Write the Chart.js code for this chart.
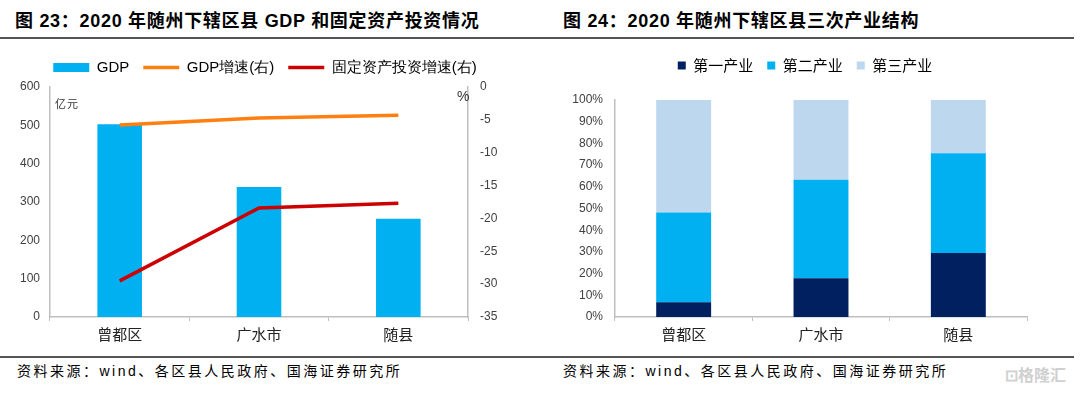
<html lang="zh">
<head>
<meta charset="UTF-8">
<title>随州下辖区县</title>
<style>
    body {
        margin: 0;
        width: 1080px;
        height: 395px;
        background: #fff;
        position: relative;
        overflow: hidden;
        font-family: "Liberation Sans", "Noto Sans CJK SC", sans-serif;
    }
    .title {
        position: absolute;
        top: 6px;
        font-size: 18px;
        font-weight: bold;
        color: #000;
        letter-spacing: 0.7px;
    }
    .rule {
        position: absolute;
        left: 0;
        width: 1074px;
        height: 2px;
        background: #555;
    }
    .source {
        position: absolute;
        top: 360px;
        font-size: 14px;
        letter-spacing: 2.5px;
        color: #000;
    }
    .box {
        position: absolute;
    }
    .unit {
        position: absolute;
        font-size: 11px;
        color: #333;
        letter-spacing: 1px;
    }
    .mark {
        position: absolute;
        left: 1005px;
        top: 362px;
        font-size: 16px;
        color: #d0d0d0;
        font-weight: bold;
    }
</style>
</head>
<body>
    <div class="title" style="left:15px">图 23：2020 年随州下辖区县 GDP 和固定资产投资情况</div>
    <div class="title" style="left:563px">图 24：2020 年随州下辖区县三次产业结构</div>
    <div class="rule" style="top:37px"></div>
    <div class="rule" style="top:356px"></div>

    <div class="box" style="left:0;top:40px;width:540px;height:312px"><canvas id="left"></canvas></div>
    <div class="box" style="left:545px;top:40px;width:535px;height:312px"><canvas id="right"></canvas></div>
    <div class="unit" style="left:55px;top:95px">亿元</div>
    <div class="unit" style="left:457px;top:88px;font-size:14px">%</div>

    <div class="source" style="left:17px">资料来源：wind、各区县人民政府、国海证券研究所</div>
    <div class="source" style="left:563px">资料来源：wind、各区县人民政府、国海证券研究所</div>
    <div class="mark">⊡格隆汇</div>

    <script src="https://cdn.jsdelivr.net/npm/chart.js"></script>
    <script>
        // data
        const counties = ['曾都区', '广水市', '随县'];
        const gdp = [503, 339, 256];
        const gdpGrowth = [-5.8, -4.7, -4.3];
        const investGrowth = [-29.5, -18.4, -17.7];

        const primary = [6.8, 17.9, 29.5];
        const secondary = [41.3, 45.4, 46.0];
        const tertiary = [51.9, 36.7, 24.5];

        const tickFont = { family: 'Liberation Sans', size: 12 };
        const catFont = { family: 'Noto Sans CJK SC', size: 15 };
        const axisColor = '#bfbfbf';

        Chart.defaults.color = '#404040';
        Chart.defaults.animation = false;

        // extra room under the legend, and a sideways nudge of the legend
        function legendTweak(gap, shift) {
            return {
                id: 'legendTweak',
                beforeInit(chart) {
                    const fit = chart.legend.fit;
                    chart.legend.fit = function () {
                        fit.call(this);
                        this.height += gap;
                    };
                },
                afterLayout(chart) {
                    chart.legend.left += shift;
                    chart.legend.right += shift;
                }
            };
        }

        new Chart(document.getElementById('left'), {
            type: 'bar',
            data: {
                labels: counties,
                datasets: [
                    {
                        type: 'line',
                        label: 'GDP增速(右)',
                        data: gdpGrowth,
                        yAxisID: 'y2',
                        borderColor: '#ff8011',
                        backgroundColor: '#ff8011',
                        borderWidth: 3.5,
                        pointRadius: 0,
                        order: 1
                    },
                    {
                        type: 'line',
                        label: '固定资产投资增速(右)',
                        data: investGrowth,
                        yAxisID: 'y2',
                        borderColor: '#cc0000',
                        backgroundColor: '#cc0000',
                        borderWidth: 3.5,
                        pointRadius: 0,
                        order: 0
                    },
                    {
                        label: 'GDP',
                        data: gdp,
                        yAxisID: 'y',
                        backgroundColor: '#00b0f0',
                        barPercentage: 0.32,
                        categoryPercentage: 1,
                        order: 2
                    }
                ]
            },
            options: {
                responsive: true,
                maintainAspectRatio: false,
                layout: { padding: { top: 6, right: 0, bottom: 0, left: 0 } },
                plugins: {
                    tooltip: { enabled: false },
                    legend: {
                        reverse: true,
                        labels: {
                            usePointStyle: true,
                            pointStyleWidth: 36,
                            boxHeight: 9,
                            padding: 14,
                            color: '#000',
                            font: { family: 'Liberation Sans', size: 15 },
                            generateLabels(chart) {
                                const items = Chart.defaults.plugins.legend.labels.generateLabels(chart);
                                items.forEach(it => {
                                    const ds = chart.data.datasets[it.datasetIndex];
                                    it.pointStyle = ds.type === 'line' ? 'line' : 'rect';
                                    it.lineWidth = ds.type === 'line' ? 3.5 : 0;
                                });
                                return items;
                            }
                        }
                    }
                },
                scales: {
                    x: {
                        grid: { display: true, drawOnChartArea: false, color: axisColor, tickLength: 4 },
                        border: { color: axisColor, width: 1.5 },
                        ticks: { font: catFont, color: '#222', padding: 4 },
                        afterFit(s) { s.height = 35; }
                    },
                    y: {
                        position: 'left',
                        min: 0,
                        max: 600,
                        ticks: { stepSize: 100, font: tickFont, padding: 2 },
                        grid: { display: false },
                        border: { color: axisColor, width: 1.5 },
                        afterFit(s) { s.width = 50; }
                    },
                    y2: {
                        position: 'right',
                        min: -35,
                        max: 0,
                        ticks: { stepSize: 5, font: tickFont, padding: 4 },
                        grid: { display: false },
                        border: { color: axisColor, width: 1.5 },
                        afterFit(s) { s.width = 72; }
                    }
                }
            },
            plugins: [legendTweak(2, -5)]
        });

        new Chart(document.getElementById('right'), {
            type: 'bar',
            data: {
                labels: counties,
                datasets: [
                    { label: '第一产业', data: primary, backgroundColor: '#002060' },
                    { label: '第二产业', data: secondary, backgroundColor: '#00b0f0' },
                    { label: '第三产业', data: tertiary, backgroundColor: '#bdd7ee' }
                ]
            },
            options: {
                responsive: true,
                maintainAspectRatio: false,
                layout: { padding: { top: 4, right: 53, bottom: 0, left: 0 } },
                datasets: { bar: { barPercentage: 0.4, categoryPercentage: 1 } },
                plugins: {
                    tooltip: { enabled: false },
                    legend: {
                        labels: {
                            boxWidth: 8,
                            boxHeight: 8,
                            padding: 14,
                            color: '#000',
                            font: { family: 'Noto Sans CJK SC', size: 15 }
                        }
                    }
                },
                scales: {
                    x: {
                        stacked: true,
                        grid: { display: true, drawOnChartArea: false, color: axisColor, tickLength: 4 },
                        border: { color: axisColor, width: 1.5 },
                        ticks: { font: catFont, color: '#222', padding: 4 },
                        afterFit(s) { s.height = 35; }
                    },
                    y: {
                        stacked: true,
                        min: 0,
                        max: 100,
                        ticks: { stepSize: 10, font: tickFont, padding: 4, callback: v => v + '%' },
                        grid: { display: false },
                        border: { color: axisColor, width: 1.5 },
                        afterFit(s) { s.width = 70; }
                    }
                }
            },
            plugins: [legendTweak(17, 19)]
        });
    </script>
</body>
</html>
